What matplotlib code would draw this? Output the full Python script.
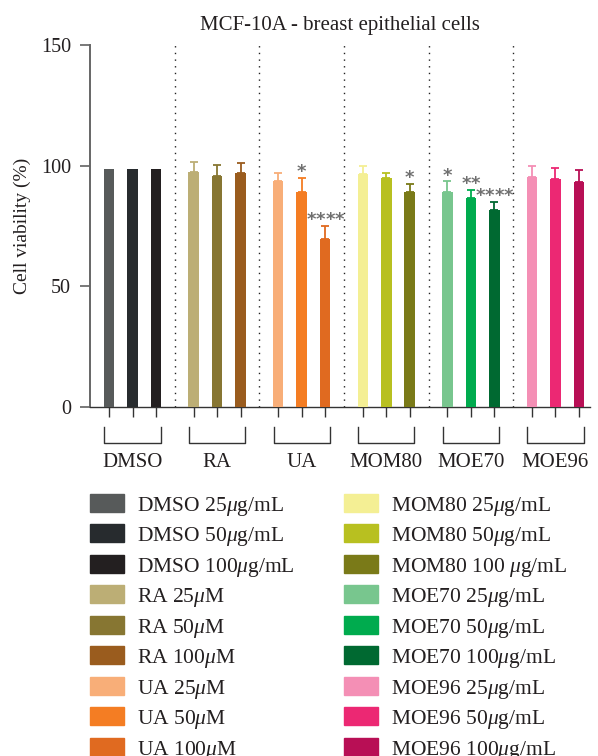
import matplotlib
matplotlib.use('Agg')
import matplotlib.pyplot as plt
from matplotlib.patches import Rectangle

plt.rcParams['font.family'] = ['Liberation Serif', 'DejaVu Serif']
plt.rcParams['mathtext.fontset'] = 'custom'
plt.rcParams['mathtext.rm'] = 'Liberation Serif'
plt.rcParams['mathtext.it'] = 'Liberation Serif:italic'

TXT = '#231f20'

# treatment groups, three doses each
groups = ['DMSO', 'RA', 'UA', 'MOM80', 'MOE70', 'MOE96']

dmso_mean = [98.6, 98.6, 98.6]
ra_mean = [97.2, 95.7, 97.0]
ua_mean = [93.4, 89.0, 69.6]
mom80_mean = [96.4, 94.9, 89.1]
moe70_mean = [89.2, 86.7, 81.5]
moe96_mean = [95.4, 94.5, 93.0]

dmso_sd = [0, 0, 0]
ra_sd = [4.2, 4.4, 4.0]
ua_sd = [3.4, 5.8, 5.4]
mom80_sd = [3.5, 2.2, 3.4]
moe70_sd = [4.2, 3.3, 3.4]
moe96_sd = [4.6, 4.4, 5.2]

dmso_sig = ['', '', '']
ra_sig = ['', '', '']
ua_sig = ['', '*', '****']
mom80_sig = ['', '', '*']
moe70_sig = ['*', '**', '****']
moe96_sig = ['', '', '']

dose_labels = [
    r'DMSO 25$\mu$g/mL', r'DMSO 50$\mu$g/mL', r'DMSO 100$\mu$g/mL',
    r'RA 25$\mu$M', r'RA 50$\mu$M', r'RA 100$\mu$M',
    r'UA 25$\mu$M', r'UA 50$\mu$M', r'UA 100$\mu$M',
    r'MOM80 25$\mu$g/mL', r'MOM80 50$\mu$g/mL', r'MOM80 100 $\mu$g/mL',
    r'MOE70 25$\mu$g/mL', r'MOE70 50$\mu$g/mL', r'MOE70 100$\mu$g/mL',
    r'MOE96 25$\mu$g/mL', r'MOE96 50$\mu$g/mL', r'MOE96 100$\mu$g/mL',
]

colors = [
    '#575a5a', '#272b2e', '#231f20',
    '#bcae75', '#877632', '#9a5c1e',
    '#f8ae78', '#f47d23', '#e06a20',
    '#f4ef94', '#b8c020', '#7a7a18',
    '#78c68e', '#00ab4e', '#006931',
    '#f48fb5', '#ec2873', '#b80f55',
]

means = dmso_mean + ra_mean + ua_mean + mom80_mean + moe70_mean + moe96_mean
sds = dmso_sd + ra_sd + ua_sd + mom80_sd + moe70_sd + moe96_sd
sigs = dmso_sig + ra_sig + ua_sig + mom80_sig + moe70_sig + moe96_sig

W, H = 598, 756
fig = plt.figure(figsize=(W / 100, H / 100), dpi=100)
ax = fig.add_axes([90 / W, 1 - 406.7 / H, 500 / W, 361.7 / H])

step = 3.6
xs = [g * step + j for g in range(len(groups)) for j in range(3)]

ax.bar(xs, means, width=0.45, color=colors, zorder=3)
for x, m, s, c in zip(xs, means, sds, colors):
    if s > 0:
        ax.errorbar(x, m, yerr=[[0], [s]], fmt='none', ecolor=c,
                    elinewidth=1.3, capsize=3, capthick=1.3, zorder=2)

# significance stars sit just above the error cap, spread out a little
for x, m, s, star in zip(xs, means, sds, sigs):
    n = len(star)
    for k in range(n):
        dx = (k - (n - 1) / 2) * 6.8
        ax.annotate('*', (x, m + s), xytext=(dx, 0.5), textcoords='offset points',
                    ha='center', va='baseline', fontsize=13, fontweight='bold',
                    family='DejaVu Sans', color='#707070', zorder=4)

# dotted separators between groups
for g in range(len(groups) - 1):
    ax.axvline(g * step + 2.8, color='#222222', lw=1.0, ls=(0, (1, 3.8)), zorder=1)

ax.set_xlim(-0.81, 20.47)
ax.set_ylim(0, 150)
ax.set_yticks([0, 50, 100, 150])
ax.set_xticks(xs)
ax.set_xticklabels([])
ax.tick_params(axis='y', length=7.5, width=1.1, pad=6, labelsize=14.5,
               color='#555555', labelcolor=TXT)
ax.tick_params(axis='x', length=7.5, width=1.0, color='#333333')
for side in ['top', 'right']:
    ax.spines[side].set_visible(False)
ax.spines['left'].set_color('#666666')
ax.spines['left'].set_linewidth(1.4)
ax.spines['bottom'].set_color('#333333')
ax.spines['bottom'].set_linewidth(1.0)

# group brackets and names under the axis
for g, name in enumerate(groups):
    x0 = g * step - 0.2
    x1 = g * step + 2.2
    ax.plot([x0, x0, x1, x1], [-8.4, -15.1, -15.1, -8.4], color='#333333',
            lw=1.0, clip_on=False)
    ax.text(g * step + 1, -25.2, name, ha='center', va='baseline',
            fontsize=15, color=TXT, clip_on=False)

ax.set_ylabel('Cell viability (%)', fontsize=14, color=TXT)
ax.yaxis.set_label_coords(-0.118, 0.5)
ax.set_title('MCF-10A - breast epithelial cells', fontsize=15, pad=11, color=TXT)

# legend in two columns, drawn on a pixel-space overlay
lax = fig.add_axes([0, 0, 1, 1])
lax.set_xlim(0, W)
lax.set_ylim(H, 0)
lax.axis('off')
for i, (lab, c) in enumerate(zip(dose_labels, colors)):
    col, row = divmod(i, 9)
    x = 90 + col * 254
    y = 502.7 + row * 30.5
    lax.add_patch(Rectangle((x, y - 9), 34, 18, color=c, clip_on=False))
    lax.text(x + 47, y, lab, ha='left', va='center_baseline', fontsize=15.5,
             color=TXT, clip_on=False)

fig.savefig('out.png', dpi=100)
